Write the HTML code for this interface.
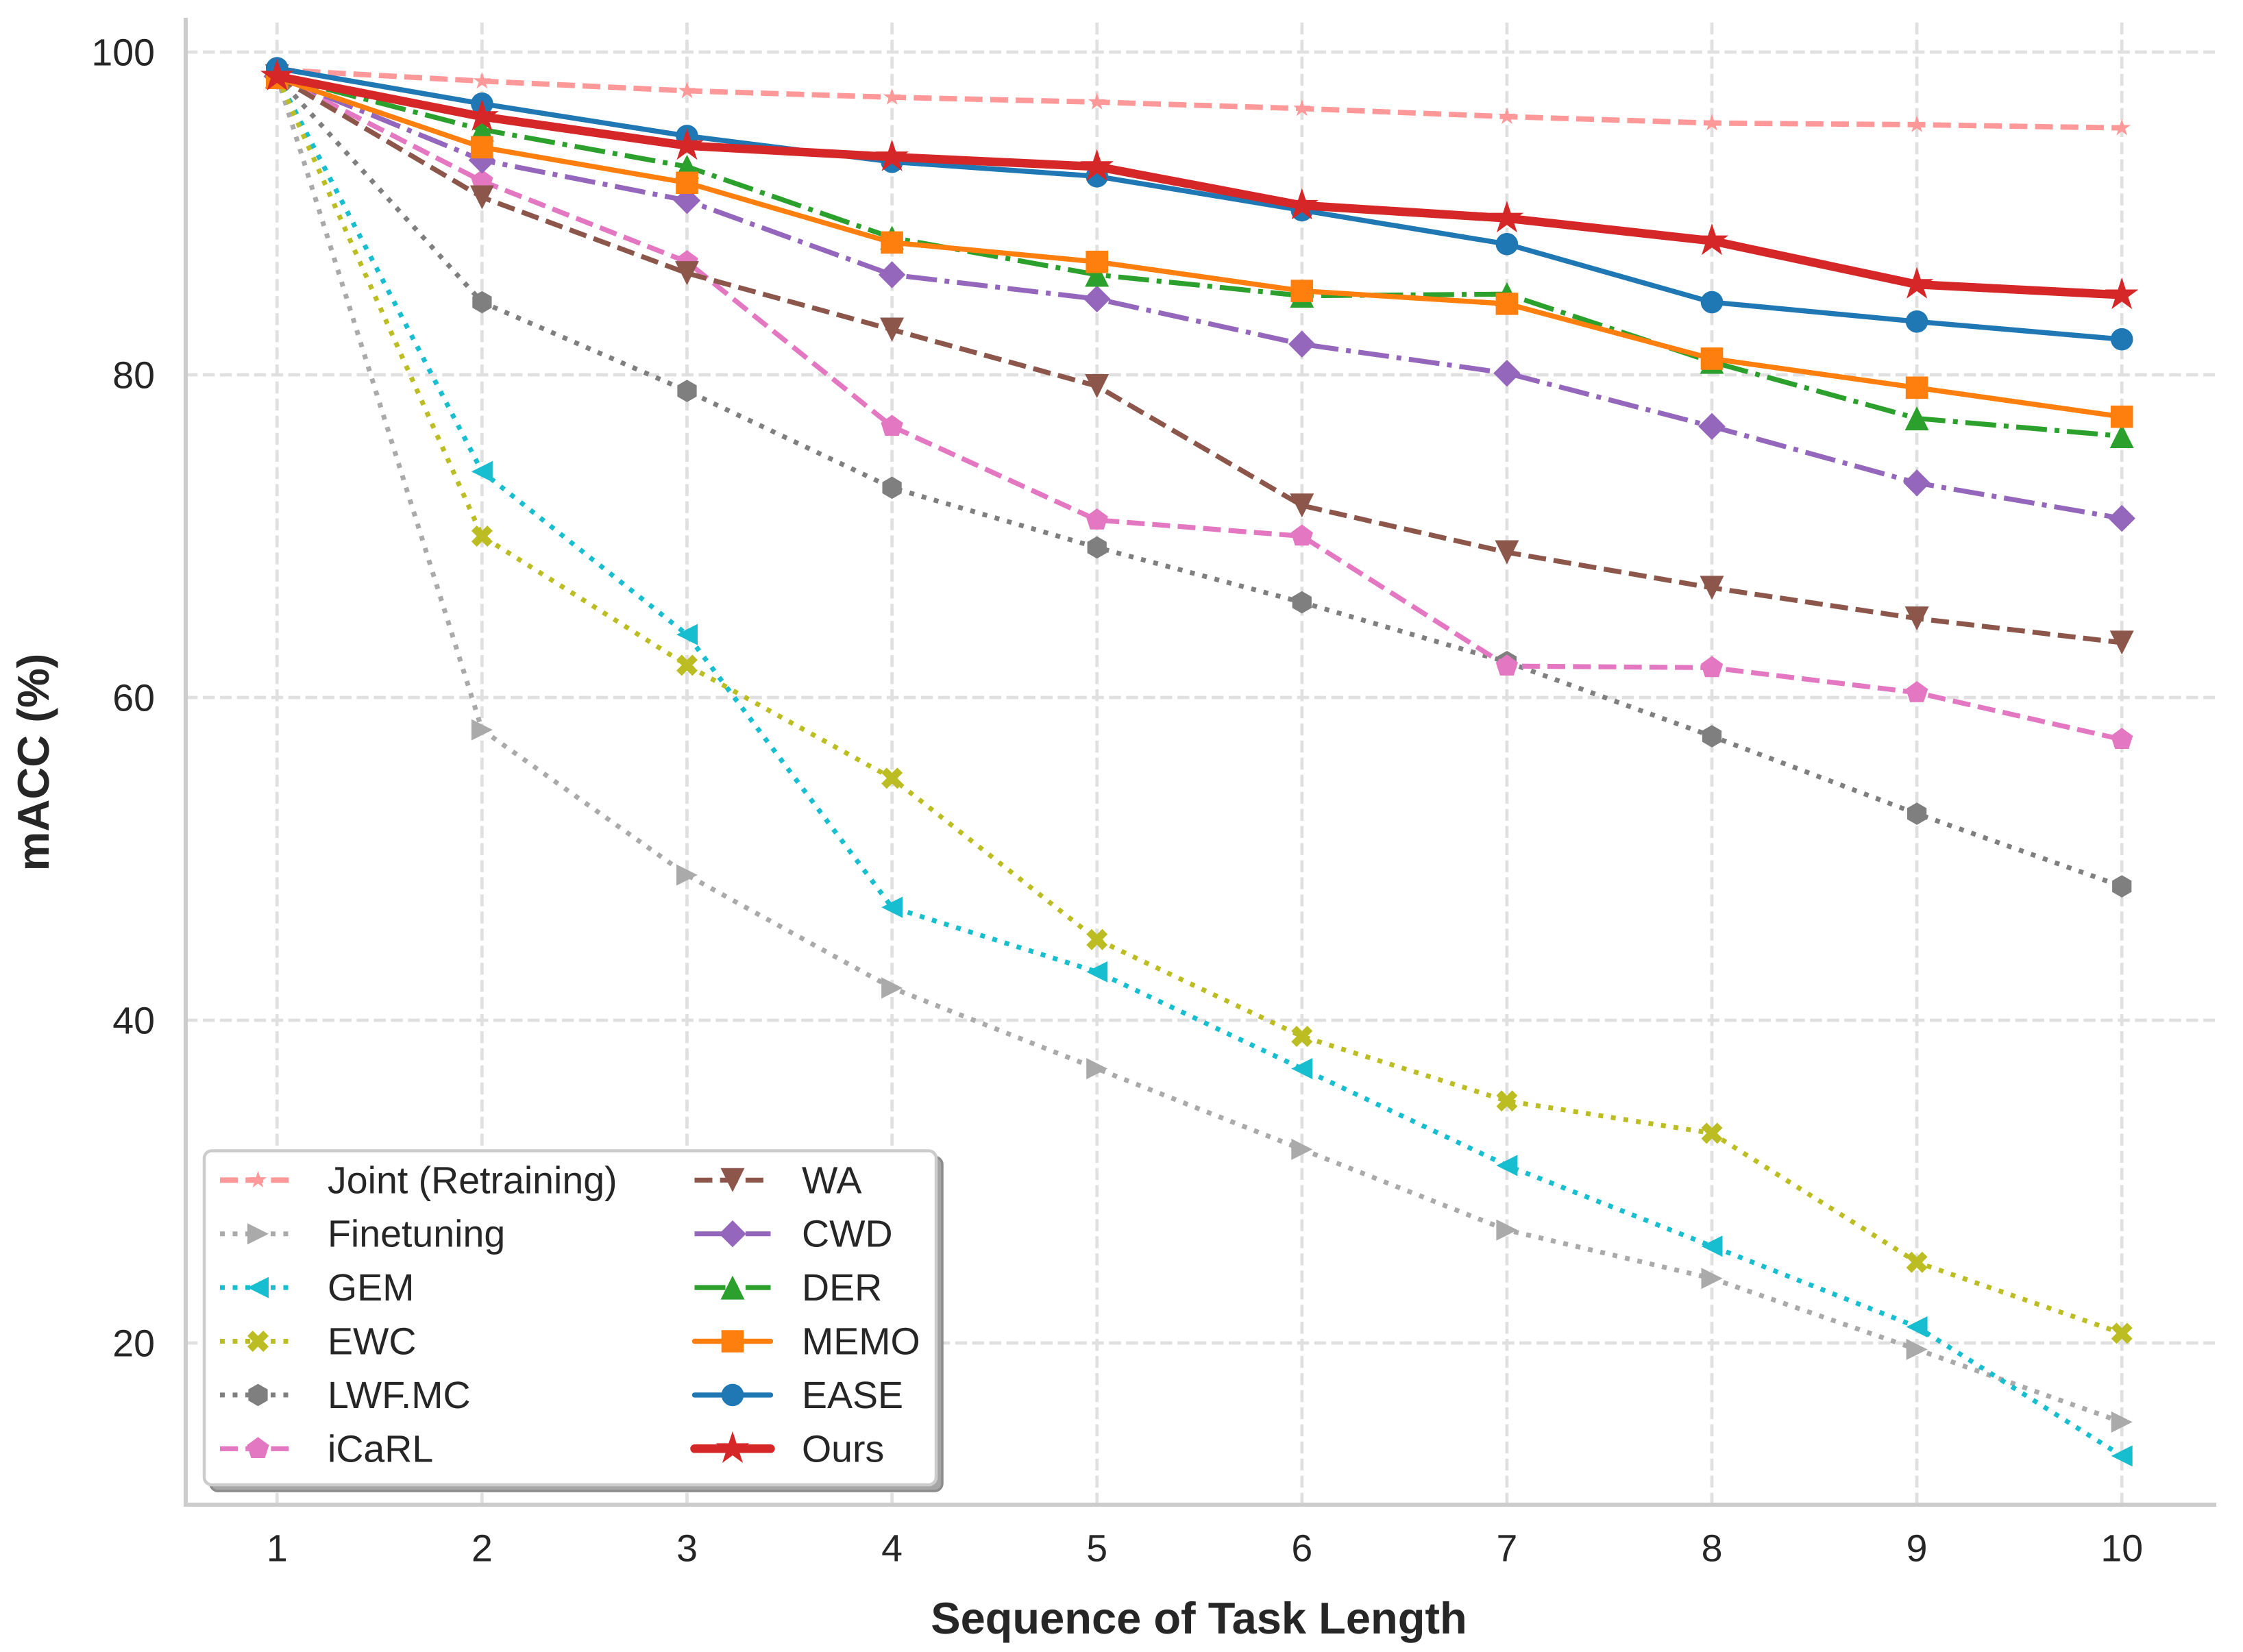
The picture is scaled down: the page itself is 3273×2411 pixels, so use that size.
<!DOCTYPE html>
<html lang="en">
<head>
<meta charset="utf-8">
<title>mACC vs Sequence of Task Length</title>
<style>
html,body{margin:0;padding:0;background:#fff;}
svg{display:block;}
text{font-family:"Liberation Sans",Arial,sans-serif;fill:#262626;text-rendering:geometricPrecision;}
</style>
</head>
<body>
<svg id="chart" xmlns="http://www.w3.org/2000/svg" width="3273" height="2411" viewBox="0 0 3273 2411">
  <rect x="0" y="0" width="3273" height="2411" fill="#ffffff"/>
  <g id="grid"></g>
  <rect x="268" y="26" width="6" height="2173" fill="#cccccc"/>
  <rect x="268" y="2193" width="2966" height="6" fill="#cccccc"/>
  <g id="ticks"></g>
  <text x="1749.5" y="2384" text-anchor="middle" font-size="65" font-weight="700">Sequence of Task Length</text>
  <text transform="translate(71,1112.5) rotate(-90)" text-anchor="middle" font-size="65" font-weight="700">mACC (%)</text>
  <g id="series"></g>
  <g id="legend">
    <rect x="307" y="1688.5" width="1068" height="487.5" rx="11" fill="#a6a6a6" stroke="#8c8c8c" stroke-width="3.5"/>
    <rect x="298" y="1679.5" width="1068" height="487.5" rx="11" fill="#ffffff" stroke="#cccccc" stroke-width="4.5"/>
  </g>
</svg>
<script>
// ---- chart data ----
const tasks = [1, 2, 3, 4, 5, 6, 7, 8, 9, 10];
const yTicks = [20, 40, 60, 80, 100];
const joint = [98.9, 98.2, 97.6, 97.2, 96.9, 96.5, 96.0, 95.6, 95.5, 95.3];
const finetuning = [98.5, 58, 49, 42, 37, 32, 27, 24, 19.6, 15.1];
const gem = [98.5, 74, 63.9, 47, 43, 37, 31, 26, 21, 13];
const ewc = [98.5, 70, 62, 55, 45, 39, 35, 33, 25, 20.6];
const lwf = [98.5, 84.5, 79, 73, 69.3, 65.9, 62.2, 57.6, 52.8, 48.3];
const icarl = [98.5, 92, 87, 76.8, 71, 70, 61.95, 61.85, 60.3, 57.4];
const wa = [98.5, 91.0, 86.3, 82.8, 79.3, 71.9, 69, 66.8, 64.9, 63.4];
const cwd = [98.5, 93.3, 90.8, 86.2, 84.7, 81.9, 80.1, 76.8, 73.3, 71.1];
const der = [98.5, 95.2, 92.9, 88.5, 86.2, 84.9, 85, 80.8, 77.3, 76.2];
const memo = [98.4, 94.1, 91.9, 88.2, 87, 85.2, 84.4, 81, 79.2, 77.4];
const ease = [99, 96.8, 94.8, 93.2, 92.3, 90.2, 88.1, 84.5, 83.3, 82.2];
const ours = [98.5, 96, 94.2, 93.5, 92.9, 90.5, 89.7, 88.3, 85.6, 84.95];

// ---- axis functions ----
function xScale(t) { return 404.3 + (t - 1) * 299.1; }
function yScale(v) { return 76 + (100 - v) * 23.55; }

const SVGNS = 'http://www.w3.org/2000/svg';
function make(tag, parent) {
  const el = document.createElementNS(SVGNS, tag);
  parent.appendChild(el);
  return el;
}

// ---- line styles ----
const DOT = '7 11.5';
const DASH = '26 11.2';
const DASHDOT = '45 11.2 7 11.2';

const seriesDefs = [
  { label: 'Joint (Retraining)', key: 'joint', values: joint, color: '#ff9999', lw: 7.8, dash: DASH, shape: 'star', size: 9.4, edge: 2.5 },
  { label: 'Finetuning', key: 'finetuning', values: finetuning, color: '#aaaaaa', lw: 7, dash: DOT, shape: 'triRight', size: 15.5 },
  { label: 'GEM', key: 'gem', values: gem, color: '#17becf', lw: 7, dash: DOT, shape: 'triLeft', size: 15.5 },
  { label: 'EWC', key: 'ewc', values: ewc, color: '#bcbd22', lw: 7, dash: DOT, shape: 'cross', size: 15.5 },
  { label: 'LWF.MC', key: 'lwf', values: lwf, color: '#7f7f7f', lw: 7, dash: DOT, shape: 'hexagon', size: 16.3 },
  { label: 'iCaRL', key: 'icarl', values: icarl, color: '#e377c2', lw: 7.2, dash: DASH, shape: 'pentagon', size: 17 },
  { label: 'WA', key: 'wa', values: wa, color: '#8c564b', lw: 7.2, dash: DASH, shape: 'triDown', size: 17.5 },
  { label: 'CWD', key: 'cwd', values: cwd, color: '#9467bd', lw: 7.2, dash: DASHDOT, shape: 'diamond', size: 19.7 },
  { label: 'DER', key: 'der', values: der, color: '#2ca02c', lw: 7.2, dash: DASHDOT, shape: 'triUp', size: 17.5 },
  { label: 'MEMO', key: 'memo', values: memo, color: '#ff7f0e', lw: 7.4, dash: null, shape: 'square', size: 16.3 },
  { label: 'EASE', key: 'ease', values: ease, color: '#1f77b4', lw: 7.4, dash: null, shape: 'circle', size: 16.3 },
  { label: 'Ours', key: 'ours', values: ours, color: '#d62728', lw: 12.5, dash: null, shape: 'star', size: 21.5, edge: 2.5 }
];

// ---- marker geometry (unit shapes, scaled by size) ----
function polar(n, r, rotDeg) {
  const pts = [];
  for (let i = 0; i < n; i++) {
    const a = (rotDeg + i * 360 / n) * Math.PI / 180;
    pts.push([r * Math.cos(a), r * Math.sin(a)]);
  }
  return pts;
}
function shapePoints(shape, s) {
  switch (shape) {
    case 'star': {
      const pts = [];
      for (let i = 0; i < 10; i++) {
        const r = i % 2 === 0 ? s : s * 0.381966;
        const a = (-90 + i * 36) * Math.PI / 180;
        pts.push([r * Math.cos(a), r * Math.sin(a)]);
      }
      return pts;
    }
    case 'triUp': return [[0, -s], [s, s], [-s, s]];
    case 'triDown': return [[0, s], [s, -s], [-s, -s]];
    case 'triLeft': return [[-s, 0], [s, -s], [s, s]];
    case 'triRight': return [[s, 0], [-s, -s], [-s, s]];
    case 'square': return [[-s, -s], [s, -s], [s, s], [-s, s]];
    case 'diamond': return [[0, -s], [s, 0], [0, s], [-s, 0]];
    case 'hexagon': return polar(6, s, -90);
    case 'pentagon': return polar(5, s, -90);
    case 'cross': {
      const u = s / 2;
      const c = [[-1,-2],[0,-1],[1,-2],[2,-1],[1,0],[2,1],[1,2],[0,1],[-1,2],[-2,1],[-1,0],[-2,-1]];
      return c.map(function (p) { return [p[0] * u, p[1] * u]; });
    }
  }
  return [];
}
function drawMarker(parent, def, cx, cy) {
  if (def.shape === 'circle') {
    const c = make('circle', parent);
    
    
    c.setAttribute('cx', cx);
    c.setAttribute('cy', cy);
    c.setAttribute('r', def.size);
    c.setAttribute('fill', def.color);
    return;
  }
  const p = make('polygon', parent);
  
  
  p.setAttribute('points', shapePoints(def.shape, def.size).map(function (q) {
    return (cx + q[0]).toFixed(2) + ',' + (cy + q[1]).toFixed(2);
  }).join(' '));
  p.setAttribute('fill', def.color);
  if (def.edge) {
    p.setAttribute('stroke', def.color);
    p.setAttribute('stroke-width', def.edge);
    p.setAttribute('stroke-miterlimit', 4);
  }
}

// ---- grid ----
const gridG = document.getElementById('grid');
tasks.forEach(function (t) {
  const l = make('line', gridG);
  
  
  l.setAttribute('x1', xScale(t));
  l.setAttribute('x2', xScale(t));
  l.setAttribute('y1', 2196);
  l.setAttribute('y2', 26);
  l.setAttribute('stroke', '#e0e0e0');
  l.setAttribute('stroke-width', 4.7);
  l.setAttribute('stroke-dasharray', '17.4 7.55');
});
yTicks.forEach(function (v) {
  const l = make('line', gridG);
  
  
  l.setAttribute('x1', 271);
  l.setAttribute('x2', 3232);
  l.setAttribute('y1', yScale(v));
  l.setAttribute('y2', yScale(v));
  l.setAttribute('stroke', '#e0e0e0');
  l.setAttribute('stroke-width', 4.7);
  l.setAttribute('stroke-dasharray', '17.4 7.55');
});

// ---- tick labels ----
const ticksG = document.getElementById('ticks');
tasks.forEach(function (t) {
  const el = make('text', ticksG);
  
  
  el.setAttribute('x', xScale(t));
  el.setAttribute('y', 2278.5);
  el.setAttribute('text-anchor', 'middle');
  el.setAttribute('font-size', 55.5);
  el.textContent = String(t);
});
yTicks.forEach(function (v) {
  const el = make('text', ticksG);
  
  
  el.setAttribute('x', 226);
  el.setAttribute('y', yScale(v) + 19.5);
  el.setAttribute('text-anchor', 'end');
  el.setAttribute('font-size', 55.5);
  el.textContent = String(v);
});

// ---- series ----
const seriesG = document.getElementById('series');
seriesDefs.forEach(function (def) {
  const g = make('g', seriesG);
  
  
  const line = make('polyline', g);
  
  
  line.setAttribute('points', def.values.map(function (v, i) {
    return xScale(tasks[i]).toFixed(2) + ',' + yScale(v).toFixed(2);
  }).join(' '));
  line.setAttribute('fill', 'none');
  line.setAttribute('stroke', def.color);
  line.setAttribute('stroke-width', def.lw);
  line.setAttribute('stroke-linejoin', 'round');
  if (def.dash) {
    line.setAttribute('stroke-dasharray', def.dash);
  } else {
    line.setAttribute('stroke-linecap', 'round');
  }
  def.values.forEach(function (v, i) {
    drawMarker(g, def, xScale(tasks[i]), yScale(v));
  });
});

// ---- legend ----
const legendG = document.getElementById('legend');
const ROWS = 6;
seriesDefs.forEach(function (def, i) {
  const col = Math.floor(i / ROWS);
  const row = i % ROWS;
  const x0 = col === 0 ? 321 : 1013.5;
  const xt = col === 0 ? 478 : 1170;
  const y = 1722.3 + row * 78.4;
  const g = make('g', legendG);
  
  
  const l = make('line', g);
  
  
  l.setAttribute('x1', x0);
  l.setAttribute('x2', x0 + 111);
  l.setAttribute('y1', y);
  l.setAttribute('y2', y);
  l.setAttribute('stroke', def.color);
  l.setAttribute('stroke-width', def.lw);
  if (def.dash) {
    l.setAttribute('stroke-dasharray', def.dash);
  } else {
    l.setAttribute('stroke-linecap', 'round');
  }
  drawMarker(g, def, x0 + 55.5, y);
  const t = make('text', g);
  
  
  t.setAttribute('x', xt);
  t.setAttribute('y', y + 19);
  t.setAttribute('font-size', 55.5);
  t.textContent = def.label;
});
</script>
</body>
</html>
